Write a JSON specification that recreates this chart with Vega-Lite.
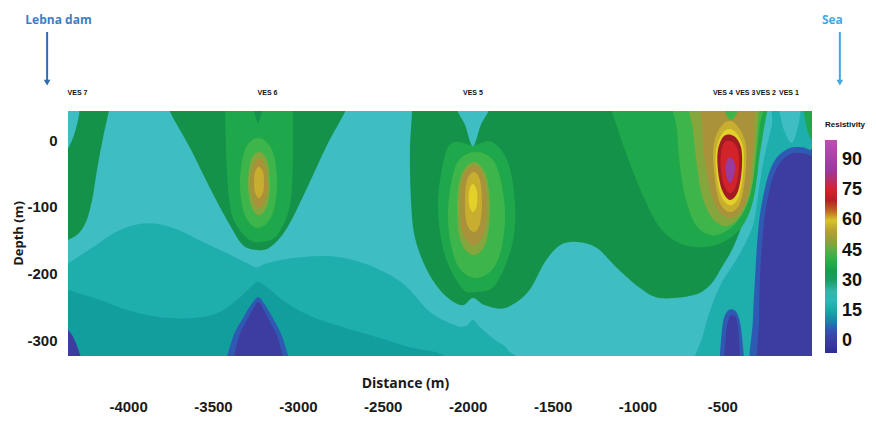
{
"$schema":"https://vega.github.io/schema/vega-lite/v6.json",
"width":744,"height":245,
"autosize":{"type":"none"},
"padding":{"left":68,"top":111,"right":64,"bottom":76},
"background":"#ffffff",
"config":{"view":{"stroke":null,"fill":"#3ebdc3"}},
"encoding":{
"x":{"field":"x","type":"quantitative","scale":{"domain":[-4354,28],"nice":false,"zero":false},
"axis":{"values":[-4000,-3500,-3000,-2500,-2000,-1500,-1000,-500],"labelExpr":"toString(datum.value)","ticks":false,"domain":false,"grid":false,"labelPadding":43,"labelFont":"Liberation Sans","labelFontSize":15,"labelFontWeight":"bold","labelColor":"#1a1a1a","labelBaseline":"top","labelOverlap":false,"title":"Distance (m)","titleFont":"Open Sans","titleFontSize":14,"titleFontWeight":"bold","titleColor":"#1a1a1a","titleX":337,"titleY":20,"titleAlign":"center","titleBaseline":"top"}},
"y":{"field":"y","type":"quantitative","scale":{"domain":[-324,43.5],"nice":false,"zero":false},
"axis":{"values":[0,-100,-200,-300],"labelExpr":"toString(datum.value)","ticks":false,"domain":false,"grid":false,"labelPadding":11,"labelFont":"Liberation Sans","labelFontSize":15,"labelFontWeight":"bold","labelColor":"#1a1a1a","labelOverlap":false,"title":"Depth (m)","titleFont":"Open Sans","titleFontSize":13,"titleFontWeight":"bold","titleColor":"#1a1a1a","titleX":-50,"titleY":122,"titleAngle":270,"titleAlign":"center","titleBaseline":"middle"}}
},
"layer":[
{"data":{"values":[
{"p":"p01","v":17,"i":0,"x":-4401,"y":-189},{"p":"p01","v":17,"i":1,"x":-4354,"y":-185},{"p":"p01","v":17,"i":2,"x":-4207,"y":-161},{"p":"p01","v":17,"i":3,"x":-4048,"y":-135},{"p":"p01","v":17,"i":4,"x":-3889,"y":-125},{"p":"p01","v":17,"i":5,"x":-3735,"y":-132},{"p":"p01","v":17,"i":6,"x":-3559,"y":-153},{"p":"p01","v":17,"i":7,"x":-3417,"y":-170},{"p":"p01","v":17,"i":8,"x":-3300,"y":-185},{"p":"p01","v":17,"i":9,"x":-3241,"y":-191},{"p":"p01","v":17,"i":10,"x":-3182,"y":-185},{"p":"p01","v":17,"i":11,"x":-3029,"y":-177},{"p":"p01","v":17,"i":12,"x":-2829,"y":-174},{"p":"p01","v":17,"i":13,"x":-2675,"y":-180},{"p":"p01","v":17,"i":14,"x":-2516,"y":-195},{"p":"p01","v":17,"i":15,"x":-2369,"y":-218},{"p":"p01","v":17,"i":16,"x":-2222,"y":-258},{"p":"p01","v":17,"i":17,"x":-2075,"y":-278},{"p":"p01","v":17,"i":18,"x":-2010,"y":-279},{"p":"p01","v":17,"i":19,"x":-1969,"y":-270},{"p":"p01","v":17,"i":20,"x":-1928,"y":-281},{"p":"p01","v":17,"i":21,"x":-1839,"y":-300},{"p":"p01","v":17,"i":22,"x":-1763,"y":-315},{"p":"p01","v":17,"i":23,"x":-1704,"y":-355},{"p":"p01","v":17,"i":24,"x":-3047,"y":-365},{"p":"p01","v":17,"i":25,"x":-4401,"y":-355},
{"p":"p02","v":12,"i":0,"x":-4401,"y":-222},{"p":"p02","v":12,"i":1,"x":-4354,"y":-225},{"p":"p02","v":12,"i":2,"x":-4165,"y":-240},{"p":"p02","v":12,"i":3,"x":-4006,"y":-255},{"p":"p02","v":12,"i":4,"x":-3812,"y":-266},{"p":"p02","v":12,"i":5,"x":-3618,"y":-267},{"p":"p02","v":12,"i":6,"x":-3476,"y":-260},{"p":"p02","v":12,"i":7,"x":-3359,"y":-240},{"p":"p02","v":12,"i":8,"x":-3282,"y":-222},{"p":"p02","v":12,"i":9,"x":-3235,"y":-213},{"p":"p02","v":12,"i":10,"x":-3182,"y":-221},{"p":"p02","v":12,"i":11,"x":-3064,"y":-245},{"p":"p02","v":12,"i":12,"x":-2911,"y":-266},{"p":"p02","v":12,"i":13,"x":-2734,"y":-281},{"p":"p02","v":12,"i":14,"x":-2534,"y":-296},{"p":"p02","v":12,"i":15,"x":-2340,"y":-311},{"p":"p02","v":12,"i":16,"x":-2145,"y":-323},{"p":"p02","v":12,"i":17,"x":-2045,"y":-355},{"p":"p02","v":12,"i":18,"x":-3223,"y":-365},{"p":"p02","v":12,"i":19,"x":-4401,"y":-355},
{"p":"p03","v":7,"i":0,"x":-3423,"y":-355},{"p":"p03","v":7,"i":1,"x":-3388,"y":-300},{"p":"p03","v":7,"i":2,"x":-3323,"y":-267},{"p":"p03","v":7,"i":3,"x":-3270,"y":-245},{"p":"p03","v":7,"i":4,"x":-3235,"y":-236},{"p":"p03","v":7,"i":5,"x":-3200,"y":-245},{"p":"p03","v":7,"i":6,"x":-3141,"y":-270},{"p":"p03","v":7,"i":7,"x":-3082,"y":-303},{"p":"p03","v":7,"i":8,"x":-3047,"y":-355},{"p":"p03","v":7,"i":9,"x":-3235,"y":-365},
{"p":"p04","v":0,"i":0,"x":-3382,"y":-355},{"p":"p04","v":0,"i":1,"x":-3353,"y":-300},{"p":"p04","v":0,"i":2,"x":-3300,"y":-270},{"p":"p04","v":0,"i":3,"x":-3253,"y":-249},{"p":"p04","v":0,"i":4,"x":-3235,"y":-243},{"p":"p04","v":0,"i":5,"x":-3211,"y":-250},{"p":"p04","v":0,"i":6,"x":-3164,"y":-273},{"p":"p04","v":0,"i":7,"x":-3111,"y":-303},{"p":"p04","v":0,"i":8,"x":-3082,"y":-355},{"p":"p04","v":0,"i":9,"x":-3235,"y":-365},
{"p":"p05","v":0,"i":0,"x":-4401,"y":-278},{"p":"p05","v":0,"i":1,"x":-4354,"y":-285},{"p":"p05","v":0,"i":2,"x":-4307,"y":-305},{"p":"p05","v":0,"i":3,"x":-4260,"y":-355},{"p":"p05","v":0,"i":4,"x":-4401,"y":-365},
{"p":"p06","v":17,"i":0,"x":-661,"y":-355},{"p":"p06","v":17,"i":1,"x":-614,"y":-293},{"p":"p06","v":17,"i":2,"x":-561,"y":-248},{"p":"p06","v":17,"i":3,"x":-502,"y":-213},{"p":"p06","v":17,"i":4,"x":-426,"y":-183},{"p":"p06","v":17,"i":5,"x":-361,"y":-153},{"p":"p06","v":17,"i":6,"x":-314,"y":-123},{"p":"p06","v":17,"i":7,"x":-290,"y":-83},{"p":"p06","v":17,"i":8,"x":-267,"y":-45},{"p":"p06","v":17,"i":9,"x":-237,"y":-8},{"p":"p06","v":17,"i":10,"x":-208,"y":23},{"p":"p06","v":17,"i":11,"x":-184,"y":65},{"p":"p06","v":17,"i":12,"x":86,"y":65},{"p":"p06","v":17,"i":13,"x":86,"y":-355},{"p":"p06","v":17,"i":14,"x":-279,"y":-365},
{"p":"p07","v":23,"i":0,"x":-172,"y":65},{"p":"p07","v":23,"i":1,"x":-160,"y":38},{"p":"p07","v":23,"i":2,"x":-130,"y":10},{"p":"p07","v":23,"i":3,"x":-90,"y":-4},{"p":"p07","v":23,"i":4,"x":-58,"y":16},{"p":"p07","v":23,"i":5,"x":-40,"y":42},{"p":"p07","v":23,"i":6,"x":-34,"y":65},{"p":"p07","v":23,"i":7,"x":-102,"y":80},
{"p":"p08","v":38,"i":0,"x":-26,"y":65},{"p":"p08","v":38,"i":1,"x":-14,"y":33},{"p":"p08","v":38,"i":2,"x":10,"y":8},{"p":"p08","v":38,"i":3,"x":39,"y":-3},{"p":"p08","v":38,"i":4,"x":86,"y":-8},{"p":"p08","v":38,"i":5,"x":86,"y":65},
{"p":"p09","v":7,"i":0,"x":-326,"y":-355},{"p":"p09","v":7,"i":1,"x":-320,"y":-270},{"p":"p09","v":7,"i":2,"x":-308,"y":-210},{"p":"p09","v":7,"i":3,"x":-296,"y":-158},{"p":"p09","v":7,"i":4,"x":-279,"y":-113},{"p":"p09","v":7,"i":5,"x":-249,"y":-72},{"p":"p09","v":7,"i":6,"x":-214,"y":-42},{"p":"p09","v":7,"i":7,"x":-167,"y":-23},{"p":"p09","v":7,"i":8,"x":-102,"y":-12},{"p":"p09","v":7,"i":9,"x":-31,"y":-11},{"p":"p09","v":7,"i":10,"x":16,"y":-15},{"p":"p09","v":7,"i":11,"x":86,"y":-23},{"p":"p09","v":7,"i":12,"x":86,"y":-355},{"p":"p09","v":7,"i":13,"x":-102,"y":-365},
{"p":"p10","v":0,"i":0,"x":-284,"y":-355},{"p":"p10","v":0,"i":1,"x":-284,"y":-270},{"p":"p10","v":0,"i":2,"x":-279,"y":-210},{"p":"p10","v":0,"i":3,"x":-267,"y":-158},{"p":"p10","v":0,"i":4,"x":-249,"y":-113},{"p":"p10","v":0,"i":5,"x":-225,"y":-78},{"p":"p10","v":0,"i":6,"x":-190,"y":-48},{"p":"p10","v":0,"i":7,"x":-143,"y":-29},{"p":"p10","v":0,"i":8,"x":-85,"y":-20},{"p":"p10","v":0,"i":9,"x":-26,"y":-20},{"p":"p10","v":0,"i":10,"x":22,"y":-24},{"p":"p10","v":0,"i":11,"x":86,"y":-30},{"p":"p10","v":0,"i":12,"x":86,"y":-355},{"p":"p10","v":0,"i":13,"x":-102,"y":-365},
{"p":"p11","v":7,"i":0,"x":-514,"y":-355},{"p":"p11","v":7,"i":1,"x":-502,"y":-285},{"p":"p11","v":7,"i":2,"x":-479,"y":-260},{"p":"p11","v":7,"i":3,"x":-443,"y":-254},{"p":"p11","v":7,"i":4,"x":-408,"y":-263},{"p":"p11","v":7,"i":5,"x":-385,"y":-293},{"p":"p11","v":7,"i":6,"x":-373,"y":-355},{"p":"p11","v":7,"i":7,"x":-443,"y":-365},
{"p":"p12","v":0,"i":0,"x":-490,"y":-355},{"p":"p12","v":0,"i":1,"x":-479,"y":-293},{"p":"p12","v":0,"i":2,"x":-461,"y":-267},{"p":"p12","v":0,"i":3,"x":-438,"y":-263},{"p":"p12","v":0,"i":4,"x":-414,"y":-270},{"p":"p12","v":0,"i":5,"x":-402,"y":-300},{"p":"p12","v":0,"i":6,"x":-396,"y":-355},{"p":"p12","v":0,"i":7,"x":-443,"y":-365},
{"p":"p13","v":32,"i":0,"x":-4278,"y":65},{"p":"p13","v":32,"i":1,"x":-4289,"y":38},{"p":"p13","v":32,"i":2,"x":-4318,"y":8},{"p":"p13","v":32,"i":3,"x":-4360,"y":-15},{"p":"p13","v":32,"i":4,"x":-4401,"y":-23},{"p":"p13","v":32,"i":5,"x":-4401,"y":-158},{"p":"p13","v":32,"i":6,"x":-4354,"y":-150},{"p":"p13","v":32,"i":7,"x":-4295,"y":-141},{"p":"p13","v":32,"i":8,"x":-4248,"y":-123},{"p":"p13","v":32,"i":9,"x":-4212,"y":-90},{"p":"p13","v":32,"i":10,"x":-4183,"y":-45},{"p":"p13","v":32,"i":11,"x":-4148,"y":3},{"p":"p13","v":32,"i":12,"x":-4118,"y":38},{"p":"p13","v":32,"i":13,"x":-4101,"y":65},{"p":"p13","v":32,"i":14,"x":-4195,"y":80},
{"p":"p14","v":32,"i":0,"x":-3783,"y":65},{"p":"p14","v":32,"i":1,"x":-3753,"y":42},{"p":"p14","v":32,"i":2,"x":-3635,"y":-12},{"p":"p14","v":32,"i":3,"x":-3518,"y":-72},{"p":"p14","v":32,"i":4,"x":-3400,"y":-128},{"p":"p14","v":32,"i":5,"x":-3323,"y":-158},{"p":"p14","v":32,"i":6,"x":-3241,"y":-165},{"p":"p14","v":32,"i":7,"x":-3164,"y":-161},{"p":"p14","v":32,"i":8,"x":-3064,"y":-132},{"p":"p14","v":32,"i":9,"x":-2946,"y":-72},{"p":"p14","v":32,"i":10,"x":-2829,"y":-8},{"p":"p14","v":32,"i":11,"x":-2723,"y":42},{"p":"p14","v":32,"i":12,"x":-2693,"y":65},{"p":"p14","v":32,"i":13,"x":-3241,"y":80},
{"p":"p15","v":38,"i":0,"x":-3435,"y":65},{"p":"p15","v":38,"i":1,"x":-3429,"y":42},{"p":"p15","v":38,"i":2,"x":-3417,"y":-48},{"p":"p15","v":38,"i":3,"x":-3388,"y":-113},{"p":"p15","v":38,"i":4,"x":-3300,"y":-147},{"p":"p15","v":38,"i":5,"x":-3223,"y":-153},{"p":"p15","v":38,"i":6,"x":-3123,"y":-143},{"p":"p15","v":38,"i":7,"x":-3047,"y":-98},{"p":"p15","v":38,"i":8,"x":-3029,"y":-23},{"p":"p15","v":38,"i":9,"x":-3029,"y":42},{"p":"p15","v":38,"i":10,"x":-3023,"y":65},{"p":"p15","v":38,"i":11,"x":-3229,"y":80},
{"p":"p16","v":32,"i":0,"x":-3282,"y":65},{"p":"p16","v":32,"i":1,"x":-3258,"y":42},{"p":"p16","v":32,"i":2,"x":-3235,"y":26},{"p":"p16","v":32,"i":3,"x":-3211,"y":42},{"p":"p16","v":32,"i":4,"x":-3188,"y":65},{"p":"p16","v":32,"i":5,"x":-3235,"y":80},
{"p":"p17","v":43,"i":0,"x":-3235,"y":3},{"p":"p17","v":43,"i":1,"x":-3152,"y":-15},{"p":"p17","v":43,"i":2,"x":-3123,"y":-65},{"p":"p17","v":43,"i":3,"x":-3152,"y":-113},{"p":"p17","v":43,"i":4,"x":-3235,"y":-132},{"p":"p17","v":43,"i":5,"x":-3312,"y":-113},{"p":"p17","v":43,"i":6,"x":-3341,"y":-65},{"p":"p17","v":43,"i":7,"x":-3312,"y":-15},
{"p":"p18","v":48,"i":0,"x":-3229,"y":-18},{"p":"p18","v":48,"i":1,"x":-3182,"y":-30},{"p":"p18","v":48,"i":2,"x":-3164,"y":-65},{"p":"p18","v":48,"i":3,"x":-3182,"y":-99},{"p":"p18","v":48,"i":4,"x":-3229,"y":-113},{"p":"p18","v":48,"i":5,"x":-3276,"y":-99},{"p":"p18","v":48,"i":6,"x":-3294,"y":-65},{"p":"p18","v":48,"i":7,"x":-3276,"y":-30},
{"p":"p19","v":53,"i":0,"x":-3229,"y":-27},{"p":"p19","v":53,"i":1,"x":-3194,"y":-38},{"p":"p19","v":53,"i":2,"x":-3176,"y":-65},{"p":"p19","v":53,"i":3,"x":-3194,"y":-92},{"p":"p19","v":53,"i":4,"x":-3229,"y":-102},{"p":"p19","v":53,"i":5,"x":-3264,"y":-92},{"p":"p19","v":53,"i":6,"x":-3282,"y":-65},{"p":"p19","v":53,"i":7,"x":-3264,"y":-38},
{"p":"p20","v":57,"i":0,"x":-3229,"y":-40},{"p":"p20","v":57,"i":1,"x":-3205,"y":-48},{"p":"p20","v":57,"i":2,"x":-3200,"y":-63},{"p":"p20","v":57,"i":3,"x":-3205,"y":-78},{"p":"p20","v":57,"i":4,"x":-3229,"y":-87},{"p":"p20","v":57,"i":5,"x":-3253,"y":-78},{"p":"p20","v":57,"i":6,"x":-3258,"y":-63},{"p":"p20","v":57,"i":7,"x":-3253,"y":-48},
{"p":"p21","v":32,"i":0,"x":-2340,"y":65},{"p":"p21","v":32,"i":1,"x":-2328,"y":44},{"p":"p21","v":32,"i":2,"x":-2340,"y":-15},{"p":"p21","v":32,"i":3,"x":-2334,"y":-90},{"p":"p21","v":32,"i":4,"x":-2310,"y":-147},{"p":"p21","v":32,"i":5,"x":-2234,"y":-198},{"p":"p21","v":32,"i":6,"x":-2134,"y":-233},{"p":"p21","v":32,"i":7,"x":-2034,"y":-248},{"p":"p21","v":32,"i":8,"x":-1969,"y":-237},{"p":"p21","v":32,"i":9,"x":-1898,"y":-248},{"p":"p21","v":32,"i":10,"x":-1780,"y":-252},{"p":"p21","v":32,"i":11,"x":-1645,"y":-228},{"p":"p21","v":32,"i":12,"x":-1545,"y":-183},{"p":"p21","v":32,"i":13,"x":-1456,"y":-158},{"p":"p21","v":32,"i":14,"x":-1356,"y":-153},{"p":"p21","v":32,"i":15,"x":-1239,"y":-162},{"p":"p21","v":32,"i":16,"x":-1121,"y":-192},{"p":"p21","v":32,"i":17,"x":-985,"y":-222},{"p":"p21","v":32,"i":18,"x":-868,"y":-237},{"p":"p21","v":32,"i":19,"x":-673,"y":-233},{"p":"p21","v":32,"i":20,"x":-573,"y":-218},{"p":"p21","v":32,"i":21,"x":-496,"y":-188},{"p":"p21","v":32,"i":22,"x":-438,"y":-162},{"p":"p21","v":32,"i":23,"x":-390,"y":-132},{"p":"p21","v":32,"i":24,"x":-349,"y":-105},{"p":"p21","v":32,"i":25,"x":-320,"y":-75},{"p":"p21","v":32,"i":26,"x":-302,"y":-38},{"p":"p21","v":32,"i":27,"x":-279,"y":3},{"p":"p21","v":32,"i":28,"x":-255,"y":42},{"p":"p21","v":32,"i":29,"x":-237,"y":65},{"p":"p21","v":32,"i":30,"x":-1280,"y":80},
{"p":"p22","v":38,"i":0,"x":-2075,"y":-3},{"p":"p22","v":38,"i":1,"x":-2134,"y":-23},{"p":"p22","v":38,"i":2,"x":-2175,"y":-98},{"p":"p22","v":38,"i":3,"x":-2134,"y":-173},{"p":"p22","v":38,"i":4,"x":-2034,"y":-222},{"p":"p22","v":38,"i":5,"x":-1957,"y":-228},{"p":"p22","v":38,"i":6,"x":-1839,"y":-218},{"p":"p22","v":38,"i":7,"x":-1739,"y":-158},{"p":"p22","v":38,"i":8,"x":-1721,"y":-98},{"p":"p22","v":38,"i":9,"x":-1763,"y":-33},{"p":"p22","v":38,"i":10,"x":-1857,"y":-3},{"p":"p22","v":38,"i":11,"x":-1969,"y":-8},
{"p":"p23","v":43,"i":0,"x":-1951,"y":-18},{"p":"p23","v":43,"i":1,"x":-1833,"y":-38},{"p":"p23","v":43,"i":2,"x":-1780,"y":-113},{"p":"p23","v":43,"i":3,"x":-1827,"y":-183},{"p":"p23","v":43,"i":4,"x":-1951,"y":-207},{"p":"p23","v":43,"i":5,"x":-2069,"y":-183},{"p":"p23","v":43,"i":6,"x":-2116,"y":-113},{"p":"p23","v":43,"i":7,"x":-2069,"y":-38},
{"p":"p24","v":48,"i":0,"x":-1963,"y":-33},{"p":"p24","v":48,"i":1,"x":-1892,"y":-53},{"p":"p24","v":48,"i":2,"x":-1869,"y":-102},{"p":"p24","v":48,"i":3,"x":-1892,"y":-153},{"p":"p24","v":48,"i":4,"x":-1963,"y":-173},{"p":"p24","v":48,"i":5,"x":-2039,"y":-153},{"p":"p24","v":48,"i":6,"x":-2063,"y":-102},{"p":"p24","v":48,"i":7,"x":-2039,"y":-53},
{"p":"p25","v":53,"i":0,"x":-1963,"y":-38},{"p":"p25","v":53,"i":1,"x":-1904,"y":-56},{"p":"p25","v":53,"i":2,"x":-1886,"y":-98},{"p":"p25","v":53,"i":3,"x":-1904,"y":-140},{"p":"p25","v":53,"i":4,"x":-1963,"y":-158},{"p":"p25","v":53,"i":5,"x":-2028,"y":-140},{"p":"p25","v":53,"i":6,"x":-2045,"y":-98},{"p":"p25","v":53,"i":7,"x":-2028,"y":-56},
{"p":"p26","v":57,"i":0,"x":-1963,"y":-48},{"p":"p26","v":57,"i":1,"x":-1928,"y":-60},{"p":"p26","v":57,"i":2,"x":-1916,"y":-93},{"p":"p26","v":57,"i":3,"x":-1928,"y":-126},{"p":"p26","v":57,"i":4,"x":-1963,"y":-138},{"p":"p26","v":57,"i":5,"x":-2004,"y":-126},{"p":"p26","v":57,"i":6,"x":-2016,"y":-93},{"p":"p26","v":57,"i":7,"x":-2004,"y":-60},
{"p":"p27","v":62,"i":0,"x":-1969,"y":-66},{"p":"p27","v":62,"i":1,"x":-1948,"y":-74},{"p":"p27","v":62,"i":2,"x":-1943,"y":-87},{"p":"p27","v":62,"i":3,"x":-1948,"y":-100},{"p":"p27","v":62,"i":4,"x":-1969,"y":-108},{"p":"p27","v":62,"i":5,"x":-1989,"y":-100},{"p":"p27","v":62,"i":6,"x":-1994,"y":-87},{"p":"p27","v":62,"i":7,"x":-1989,"y":-74},
{"p":"p28","v":23,"i":0,"x":-2092,"y":65},{"p":"p28","v":23,"i":1,"x":-2057,"y":42},{"p":"p28","v":23,"i":2,"x":-2016,"y":23},{"p":"p28","v":23,"i":3,"x":-1969,"y":-9},{"p":"p28","v":23,"i":4,"x":-1922,"y":23},{"p":"p28","v":23,"i":5,"x":-1880,"y":42},{"p":"p28","v":23,"i":6,"x":-1845,"y":65},{"p":"p28","v":23,"i":7,"x":-1969,"y":80},
{"p":"p29","v":38,"i":0,"x":-1191,"y":65},{"p":"p29","v":38,"i":1,"x":-1150,"y":42},{"p":"p29","v":38,"i":2,"x":-1062,"y":-23},{"p":"p29","v":38,"i":3,"x":-956,"y":-90},{"p":"p29","v":38,"i":4,"x":-856,"y":-135},{"p":"p29","v":38,"i":5,"x":-720,"y":-158},{"p":"p29","v":38,"i":6,"x":-561,"y":-159},{"p":"p29","v":38,"i":7,"x":-438,"y":-144},{"p":"p29","v":38,"i":8,"x":-367,"y":-123},{"p":"p29","v":38,"i":9,"x":-326,"y":-98},{"p":"p29","v":38,"i":10,"x":-302,"y":-68},{"p":"p29","v":38,"i":11,"x":-284,"y":-30},{"p":"p29","v":38,"i":12,"x":-261,"y":8},{"p":"p29","v":38,"i":13,"x":-237,"y":42},{"p":"p29","v":38,"i":14,"x":-220,"y":65},{"p":"p29","v":38,"i":15,"x":-691,"y":80},
{"p":"p30","v":43,"i":0,"x":-779,"y":65},{"p":"p30","v":43,"i":1,"x":-767,"y":15},{"p":"p30","v":43,"i":2,"x":-750,"y":-38},{"p":"p30","v":43,"i":3,"x":-714,"y":-90},{"p":"p30","v":43,"i":4,"x":-655,"y":-128},{"p":"p30","v":43,"i":5,"x":-561,"y":-143},{"p":"p30","v":43,"i":6,"x":-467,"y":-135},{"p":"p30","v":43,"i":7,"x":-396,"y":-117},{"p":"p30","v":43,"i":8,"x":-343,"y":-90},{"p":"p30","v":43,"i":9,"x":-314,"y":-53},{"p":"p30","v":43,"i":10,"x":-296,"y":-15},{"p":"p30","v":43,"i":11,"x":-279,"y":23},{"p":"p30","v":43,"i":12,"x":-267,"y":65},{"p":"p30","v":43,"i":13,"x":-526,"y":80},
{"p":"p31","v":48,"i":0,"x":-691,"y":65},{"p":"p31","v":48,"i":1,"x":-673,"y":15},{"p":"p31","v":48,"i":2,"x":-650,"y":-38},{"p":"p31","v":48,"i":3,"x":-620,"y":-83},{"p":"p31","v":48,"i":4,"x":-561,"y":-117},{"p":"p31","v":48,"i":5,"x":-485,"y":-129},{"p":"p31","v":48,"i":6,"x":-414,"y":-120},{"p":"p31","v":48,"i":7,"x":-361,"y":-98},{"p":"p31","v":48,"i":8,"x":-326,"y":-68},{"p":"p31","v":48,"i":9,"x":-308,"y":-30},{"p":"p31","v":48,"i":10,"x":-296,"y":8},{"p":"p31","v":48,"i":11,"x":-284,"y":45},{"p":"p31","v":48,"i":12,"x":-279,"y":65},{"p":"p31","v":48,"i":13,"x":-485,"y":80},
{"p":"p32","v":53,"i":0,"x":-620,"y":65},{"p":"p32","v":53,"i":1,"x":-620,"y":23},{"p":"p32","v":53,"i":2,"x":-603,"y":-30},{"p":"p32","v":53,"i":3,"x":-573,"y":-75},{"p":"p32","v":53,"i":4,"x":-526,"y":-105},{"p":"p32","v":53,"i":5,"x":-455,"y":-117},{"p":"p32","v":53,"i":6,"x":-385,"y":-105},{"p":"p32","v":53,"i":7,"x":-343,"y":-75},{"p":"p32","v":53,"i":8,"x":-326,"y":-38},{"p":"p32","v":53,"i":9,"x":-314,"y":0},{"p":"p32","v":53,"i":10,"x":-308,"y":38},{"p":"p32","v":53,"i":11,"x":-308,"y":65},{"p":"p32","v":53,"i":12,"x":-467,"y":80},
{"p":"p33","v":43,"i":0,"x":-508,"y":65},{"p":"p33","v":43,"i":1,"x":-485,"y":42},{"p":"p33","v":43,"i":2,"x":-449,"y":30},{"p":"p33","v":43,"i":3,"x":-414,"y":41},{"p":"p33","v":43,"i":4,"x":-390,"y":65},{"p":"p33","v":43,"i":5,"x":-449,"y":75},
{"p":"p34","v":57,"i":0,"x":-495,"y":24},{"p":"p34","v":57,"i":1,"x":-548,"y":-3},{"p":"p34","v":57,"i":2,"x":-550,"y":-45},{"p":"p34","v":57,"i":3,"x":-518,"y":-92},{"p":"p34","v":57,"i":4,"x":-455,"y":-108},{"p":"p34","v":57,"i":5,"x":-393,"y":-93},{"p":"p34","v":57,"i":6,"x":-362,"y":-45},{"p":"p34","v":57,"i":7,"x":-366,"y":-2},{"p":"p34","v":57,"i":8,"x":-430,"y":26},
{"p":"p35","v":62,"i":0,"x":-490,"y":13},{"p":"p35","v":62,"i":1,"x":-535,"y":-12},{"p":"p35","v":62,"i":2,"x":-537,"y":-45},{"p":"p35","v":62,"i":3,"x":-509,"y":-83},{"p":"p35","v":62,"i":4,"x":-455,"y":-98},{"p":"p35","v":62,"i":5,"x":-401,"y":-84},{"p":"p35","v":62,"i":6,"x":-375,"y":-42},{"p":"p35","v":62,"i":7,"x":-380,"y":-8},{"p":"p35","v":62,"i":8,"x":-432,"y":14},
{"p":"p36","v":67,"i":0,"x":-490,"y":6},{"p":"p36","v":67,"i":1,"x":-526,"y":-15},{"p":"p36","v":67,"i":2,"x":-526,"y":-45},{"p":"p36","v":67,"i":3,"x":-502,"y":-75},{"p":"p36","v":67,"i":4,"x":-455,"y":-90},{"p":"p36","v":67,"i":5,"x":-408,"y":-77},{"p":"p36","v":67,"i":6,"x":-385,"y":-42},{"p":"p36","v":67,"i":7,"x":-390,"y":-11},{"p":"p36","v":67,"i":8,"x":-432,"y":6},
{"p":"p37","v":75,"i":0,"x":-485,"y":-3},{"p":"p37","v":75,"i":1,"x":-508,"y":-20},{"p":"p37","v":75,"i":2,"x":-508,"y":-45},{"p":"p37","v":75,"i":3,"x":-490,"y":-68},{"p":"p37","v":75,"i":4,"x":-455,"y":-80},{"p":"p37","v":75,"i":5,"x":-420,"y":-69},{"p":"p37","v":75,"i":6,"x":-402,"y":-42},{"p":"p37","v":75,"i":7,"x":-408,"y":-17},{"p":"p37","v":75,"i":8,"x":-438,"y":-3},
{"p":"p38","v":85,"i":0,"x":-455,"y":-26},{"p":"p38","v":85,"i":1,"x":-479,"y":-35},{"p":"p38","v":85,"i":2,"x":-479,"y":-51},{"p":"p38","v":85,"i":3,"x":-455,"y":-65},{"p":"p38","v":85,"i":4,"x":-432,"y":-53},{"p":"p38","v":85,"i":5,"x":-426,"y":-36}
]},
"mark":{"type":"line","filled":true,"interpolate":"cardinal-closed","clip":true,"strokeWidth":0},
"encoding":{
"color":{"field":"v","type":"quantitative",
"scale":{"domain":[-6,0,7,12,17,23,32,38,43,48,53,57,62,67,75,85,100],"range":["#2c2e8e","#3d3d9f","#2f5ab4","#119e9d","#1eaeac","#3ebdc3","#14924a","#1fa84b","#3db54a","#84a63d","#aa923a","#c8ae2f","#e2d12b","#a01c22","#d2232a","#983a9e","#bb50b2"],"interpolate":"rgb"},
"legend":{"orient":"none","legendX":757,"legendY":10,"direction":"vertical","title":"Resistivity","titleFont":"Liberation Sans","titleFontSize":8,"titleFontWeight":"bold","titleColor":"#111111","titlePadding":11,"titleLimit":60,"gradientLength":213,"gradientThickness":12,"gradientStrokeWidth":0,"values":[0,15,30,45,60,75,90],"labelFont":"Liberation Sans","labelFontSize":18,"labelFontWeight":"bold","labelColor":"#111111","labelOffset":5,"labelOverlap":false,"padding":0}},
"detail":{"field":"p","type":"nominal"},
"order":{"field":"i","type":"quantitative"}
}},
{"data":{"values":[
{"x":-4298,"y":70,"t":"VES 7"},{"x":-3179,"y":70,"t":"VES 6"},{"x":-1969,"y":70,"t":"VES 5"},{"x":-497,"y":70,"t":"VES 4"},{"x":-364,"y":70,"t":"VES 3"},{"x":-243,"y":70,"t":"VES 2"},{"x":-108,"y":70,"t":"VES 1"}
]},
"mark":{"type":"text","font":"Liberation Sans","fontSize":7,"fontWeight":"bold","color":"#111111","align":"center","baseline":"middle"},
"encoding":{"text":{"field":"t","type":"nominal"}}},
{"data":{"values":[{"x":-4410,"y":180,"t":"Lebna dam"}]},
"mark":{"type":"text","font":"Open Sans","fontSize":12,"fontWeight":"bold","color":"#3a7fc2","align":"center","baseline":"middle"},
"encoding":{"text":{"field":"t","type":"nominal"}}},
{"data":{"values":[{"x":148,"y":180,"t":"Sea"}]},
"mark":{"type":"text","font":"Open Sans","fontSize":12,"fontWeight":"bold","color":"#45a8de","align":"center","baseline":"middle"},
"encoding":{"text":{"field":"t","type":"nominal"}}},
{"data":{"values":[{"x":-4477,"y":162,"y2":90}]},
"mark":{"type":"rule","color":"#2f6db0","strokeWidth":2},
"encoding":{"y2":{"field":"y2"}}},
{"data":{"values":[{"x":-4477,"y":86}]},
"mark":{"type":"point","shape":"triangle-down","filled":true,"size":45,"color":"#2f6db0","opacity":1},
"encoding":{}},
{"data":{"values":[{"x":192,"y":162,"y2":90}]},
"mark":{"type":"rule","color":"#45a8de","strokeWidth":2},
"encoding":{"y2":{"field":"y2"}}},
{"data":{"values":[{"x":192,"y":86}]},
"mark":{"type":"point","shape":"triangle-down","filled":true,"size":45,"color":"#45a8de","opacity":1},
"encoding":{}}
]
}
